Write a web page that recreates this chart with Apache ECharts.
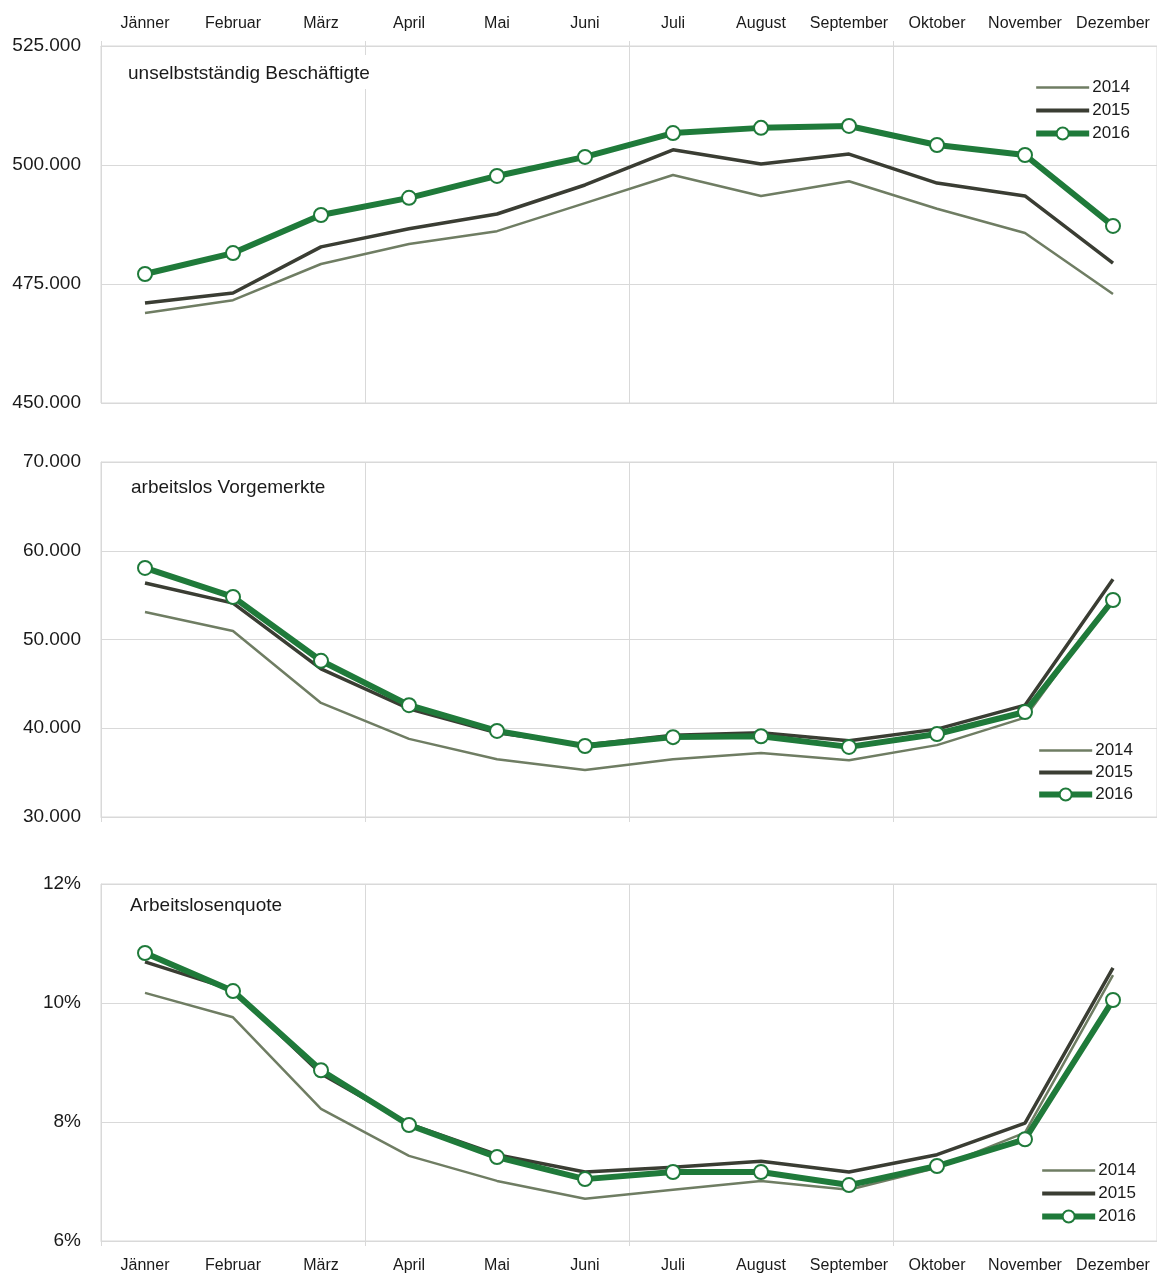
<!DOCTYPE html>
<html>
<head>
<meta charset="utf-8">
<script src="https://cdn.jsdelivr.net/npm/echarts@6/dist/echarts.min.js"></script>
<style>
html,body{margin:0;padding:0;background:#fff;}
#chart{width:1157px;height:1275px;}
</style>
</head>
<body>
<div id="chart"></div>
<script>
const months = ['Jänner','Februar','März','April','Mai','Juni','Juli','August','September','Oktober','November','Dezember'];
const years = ['2014','2015','2016'];

const titles = ['unselbstständig Beschäftigte','arbeitslos Vorgemerkte','Arbeitslosenquote'];

const employed2014 = [468900,471600,479200,483400,486100,492000,497900,493500,496600,490800,485700,472900];
const employed2015 = [471000,473100,482800,486600,489700,495800,503200,500200,502300,496200,493500,479400];
const employed2016 = [477100,481500,489500,493100,497700,501700,506700,507800,508200,504200,502100,487200];

const unemployed2014 = [53100,50960,42850,38800,36500,35300,36500,37200,36400,38100,41200,54800];
const unemployed2015 = [56370,54100,46700,42200,39500,38100,39200,39500,38600,39900,42600,56800];
const unemployed2016 = [58060,54800,47600,42600,39700,38000,39000,39100,37900,39350,41830,54450];

const rate2014 = [10.17,9.76,8.22,7.43,7.01,6.71,6.86,7.01,6.86,7.23,7.82,10.47];
const rate2015 = [10.69,10.22,8.81,7.97,7.45,7.16,7.24,7.34,7.16,7.45,7.98,10.59];
const rate2016 = [10.84,10.20,8.87,7.95,7.41,7.04,7.16,7.16,6.94,7.26,7.71,10.05];

const yTicks = [
  {min:450000,max:525000,interval:25000},
  {min:30000,max:70000,interval:10000},
  {min:6,max:12,interval:2}
];

const panelData = [
  [employed2014, employed2015, employed2016],
  [unemployed2014, unemployed2015, unemployed2016],
  [rate2014, rate2015, rate2016]
];

const FONT = 'Liberation Sans';
const GRAY = '#d9d9d9';
const colors = ['#6f7d63','#3a3d33','#1f7a3a'];
const widths = [2.5,3.5,6];

function thousands(v){ return String(v).replace(/\B(?=(\d{3})+(?!\d))/g,'.'); }

const grids = [
  {left:101,right:0,top:46,height:357},
  {left:101,right:0,top:462,height:355},
  {left:101,right:0,top:884,height:357}
].map(g => Object.assign({show:true,borderColor:GRAY,borderWidth:1,backgroundColor:'transparent'}, g));

const quarter = (i) => i % 3 === 0;

const xAxes = [0,1,2].map(i => ({
  type:'category',
  gridIndex:i,
  data:months,
  boundaryGap:true,
  position: i === 0 ? 'top' : 'bottom',
  axisLine:{show:true,lineStyle:{color:GRAY,width:1}},
  axisTick:{show:true,interval:quarter,length:5,lineStyle:{color:GRAY}},
  splitLine:{show:true,interval:quarter,lineStyle:{color:GRAY,width:1}},
  axisLabel:{
    show: i !== 1,
    interval:0,
    color:'#1a1a1a',
    fontFamily:FONT,
    fontSize:16,
    margin: i === 0 ? 14 : 17
  }
}));

const yAxes = [0,1,2].map(i => ({
  type:'value',
  gridIndex:i,
  min:yTicks[i].min,
  max:yTicks[i].max,
  interval:yTicks[i].interval,
  axisLine:{show:true,lineStyle:{color:GRAY}},
  axisTick:{show:false},
  splitLine:{show:true,lineStyle:{color:GRAY,width:1}},
  axisLabel:{
    color:'#1a1a1a',
    fontFamily:FONT,
    fontSize:19,
    margin:20,
    formatter: i === 2 ? (v => v + '%') : thousands
  }
}));

const series = [];
for (let p = 0; p < 3; p++) {
  for (let y = 0; y < 3; y++) {
    const isNew = y === 2;
    series.push({
      type:'line',
      name:years[y],
      xAxisIndex:p,
      yAxisIndex:p,
      data:panelData[p][y],
      z: 2 + y,
      color: colors[y],
      lineStyle:{color:colors[y],width:widths[y]},
      symbol: 'circle',
      symbolSize: 14,
      showSymbol: isNew,
      itemStyle: isNew ? {color:'#ffffff',borderColor:colors[y],borderWidth:2} : {color:colors[y]},
      emphasis:{disabled:true},
      animation:false
    });
  }
}

const titleCfg = [
  {left:110,top:55,padding:[9,10,6,18]},
  {left:110,top:469,padding:[9,35,5,21]},
  {left:110,top:887,padding:[9,81,4,20]}
];
const titleComps = titleCfg.map((c,i) => ({
  text:titles[i],
  left:c.left,
  top:c.top,
  padding:c.padding,
  backgroundColor:'#ffffff',
  textStyle:{fontFamily:FONT,fontSize:19,fontWeight:'normal',color:'#1a1a1a'}
}));

const legendData = years.map((y,i) => ({
  name:y,
  itemStyle: i === 2 ? {color:'#ffffff',borderColor:colors[i],borderWidth:2} : {opacity:0},
  lineStyle:{color:colors[i],width:[2.5,4,6][i]}
}));

const legendCfg = [
  {right:22,top:74,gap:6},
  {right:19,top:737,gap:5},
  {right:16,top:1157,gap:6}
];
const legends = legendCfg.map(c => ({
  data:legendData,
  orient:'vertical',
  right:c.right,
  top:c.top,
  itemWidth:53,
  itemHeight:15,
  itemGap:c.gap,
  selectedMode:false,
  textStyle:{fontFamily:FONT,fontSize:17,color:'#1a1a1a',padding:[0,0,0,-2]}
}));

const chart = echarts.init(document.getElementById('chart'), null, {renderer:'canvas'});
chart.setOption({
  backgroundColor:'#ffffff',
  animation:false,
  title:titleComps,
  legend:legends,
  grid:grids,
  xAxis:xAxes,
  yAxis:yAxes,
  series:series
});
</script>
</body>
</html>
